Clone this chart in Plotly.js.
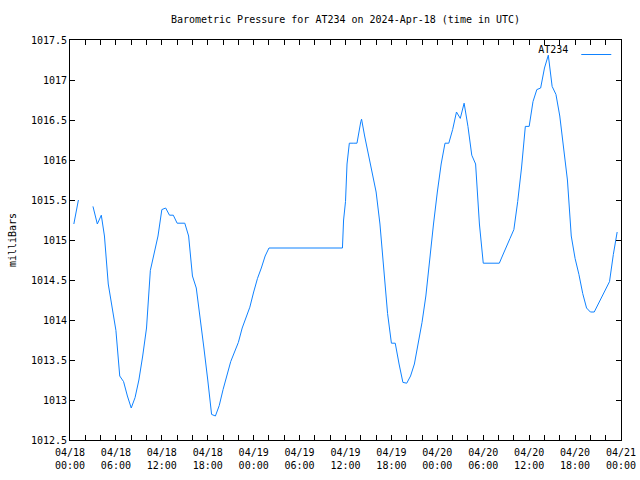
<!DOCTYPE html>
<html>
<head>
<meta charset="utf-8">
<script src="https://cdn.plot.ly/plotly-3.0.1.min.js"></script>
<style>html,body{margin:0;padding:0;background:#fff}#chart{width:640px;height:480px}</style>
</head>
<body>
<div id="chart"></div>
<script>
// Hours after 2024-04-18 00:00 UTC (null pressure = gap in record)
const hours = [0.5, 0.8, 1.1, 2.0,
  3.0, 3.57, 4.09, 4.5, 5.0, 5.5, 6.0, 6.5, 7.0, 7.5, 8.0, 8.5, 9.0, 9.5, 10.0, 10.5,
  11.0, 11.5, 12.0, 12.5, 13.0, 13.5, 14.0, 14.5, 15.0, 15.5, 16.0, 16.5, 17.0, 17.5,
  18.0, 18.5, 19.0, 19.5, 20.0, 20.5, 21.0, 21.5, 22.0, 22.5, 23.0, 23.5, 24.0, 24.5,
  25.0, 25.5, 26.0, 28.0, 30.0, 32.0, 34.0, 35.6, 35.75, 36.0, 36.2, 36.5, 37.0, 37.5,
  38.0, 38.1, 38.5, 39.0, 39.5, 40.0, 40.5, 41.0, 41.5, 42.0, 42.5, 43.0, 43.5, 44.0,
  44.5, 45.0, 45.5, 46.0, 46.5, 47.0, 47.5, 48.0, 48.5, 49.0, 49.5, 50.0, 50.5, 51.0,
  51.5, 52.0, 52.5, 53.0, 53.5, 54.0, 55.0, 56.1, 56.5, 57.0, 57.5, 58.0, 58.5, 59.0,
  59.5, 60.0, 60.5, 61.0, 61.5, 62.0, 62.5, 63.0, 63.5, 64.0, 64.5, 65.0, 65.5, 66.0,
  66.5, 67.0, 67.5, 68.0, 68.5, 69.0, 69.5, 70.0, 70.5, 71.0, 71.5];
const pressure = [1015.2, 1015.35, 1015.5, null,
  1015.42, 1015.2, 1015.31, 1015.05, 1014.45, 1014.15, 1013.87, 1013.3, 1013.23, 1013.05, 1012.9, 1013.03, 1013.25, 1013.55, 1013.9, 1014.62,
  1014.82, 1015.05, 1015.38, 1015.4, 1015.31, 1015.31, 1015.21, 1015.21, 1015.21, 1015.05, 1014.55, 1014.4, 1014.05, 1013.65,
  1013.25, 1012.82, 1012.8, 1012.93, 1013.13, 1013.32, 1013.48, 1013.6, 1013.72, 1013.9, 1014.02, 1014.16, 1014.35, 1014.52,
  1014.65, 1014.8, 1014.9, 1014.9, 1014.9, 1014.9, 1014.9, 1014.9, 1015.25, 1015.48, 1015.95, 1016.21, 1016.21, 1016.21,
  1016.48, 1016.51, 1016.3, 1016.08, 1015.85, 1015.6, 1015.2, 1014.65, 1014.08, 1013.71, 1013.71, 1013.45, 1013.22, 1013.21,
  1013.3, 1013.45, 1013.7, 1013.97, 1014.3, 1014.78, 1015.2, 1015.6, 1015.95, 1016.21, 1016.21, 1016.38, 1016.6, 1016.52,
  1016.71, 1016.42, 1016.06, 1015.95, 1015.2, 1014.71, 1014.71, 1014.71, 1014.8, 1014.92, 1015.02, 1015.13, 1015.48, 1015.9,
  1016.42, 1016.42, 1016.73, 1016.88, 1016.9, 1017.15, 1017.31, 1016.92, 1016.82, 1016.55, 1016.12, 1015.75, 1015.05, 1014.77,
  1014.57, 1014.33, 1014.15, 1014.1, 1014.1, 1014.2, 1014.3, 1014.38, 1014.48, 1014.82, 1015.1];
const seriesName = 'AT234';
const tickHours = [0, 6, 12, 18, 24, 30, 36, 42, 48, 54, 60, 66, 72];
const tickLabels = ['04/18<br>00:00', '04/18<br>06:00', '04/18<br>12:00', '04/18<br>18:00',
  '04/19<br>00:00', '04/19<br>06:00', '04/19<br>12:00', '04/19<br>18:00',
  '04/20<br>00:00', '04/20<br>06:00', '04/20<br>12:00', '04/20<br>18:00', '04/21<br>00:00'];
const yTicks = [1012.5, 1013, 1013.5, 1014, 1014.5, 1015, 1015.5, 1016, 1016.5, 1017, 1017.5];

const base = Date.UTC(2024, 3, 18, 0, 0, 0);
function toDate(h) {
  const d = new Date(base + h * 3600000);
  return d.toISOString().replace('T', ' ').slice(0, 19);
}
const xs = hours.map(toDate);
const FONT = 'DejaVu Sans Mono, Liberation Mono, monospace';

const trace = {
  x: xs, y: pressure, type: 'scatter', mode: 'lines', name: ' ',
  connectgaps: false,
  line: {color: '#0f82ff', width: 1}
};

const layout = {
  width: 640, height: 480,
  margin: {l: 70, r: 19, t: 40, b: 40},
  paper_bgcolor: '#fff', plot_bgcolor: '#fff',
  font: {family: FONT, size: 10, color: '#000'},
  title: {text: 'Barometric Pressure for AT234 on 2024-Apr-18 (time in UTC)',
          font: {family: FONT, size: 10, color: '#000'},
          x: 0.5, xref: 'paper', xanchor: 'center', y: 0.96, yanchor: 'middle'},
  showlegend: true,
  legend: {x: 1.013, xanchor: 'right', y: 1, yanchor: 'top', bgcolor: 'rgba(0,0,0,0)',
           borderwidth: 0, font: {family: FONT, size: 10},
           title: {text: seriesName, side: 'left', font: {family: FONT, size: 10}},
           itemwidth: 30, tracegroupgap: 0},
  xaxis: {
    type: 'date',
    range: [toDate(0), toDate(72)],
    tickmode: 'array', tickvals: tickHours.map(toDate), ticktext: tickLabels,
    ticks: 'inside', ticklen: 5, tickcolor: '#000', tickwidth: 1,
    ticklabelstandoff: 3,
    minor: {dtick: 2 * 3600000, ticks: 'inside', ticklen: 5, tickcolor: '#000'},
    showline: true, linecolor: '#000', linewidth: 1, mirror: 'ticks',
    showgrid: false, zeroline: false,
    tickfont: {family: FONT, size: 10, color: '#000'}
  },
  yaxis: {
    range: [1012.5, 1017.5],
    tickmode: 'array', tickvals: yTicks, ticktext: yTicks.map(v => String(v)),
    ticks: 'inside', ticklen: 5, tickcolor: '#000', tickwidth: 1,
    showline: true, linecolor: '#000', linewidth: 1, mirror: 'ticks',
    showgrid: false, zeroline: false,
    tickfont: {family: FONT, size: 10, color: '#000'},
    title: {text: 'milliBars', font: {family: FONT, size: 10, color: '#000'}, standoff: 12}
  }
};

Plotly.newPlot('chart', [trace], layout, {displayModeBar: false, staticPlot: true});
</script>
</body>
</html>
